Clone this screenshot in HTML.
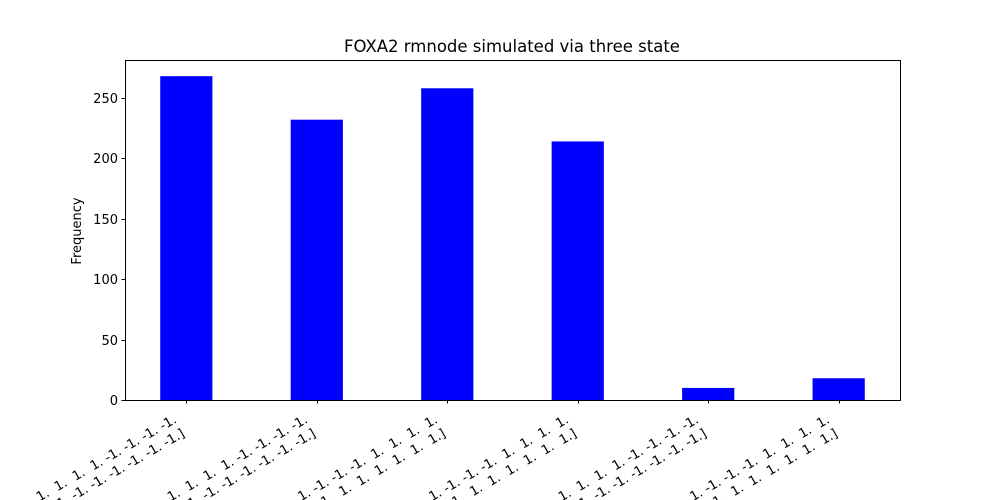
<!DOCTYPE html>
<html><head><meta charset="utf-8"><style>
html,body{margin:0;background:#fff;width:1000px;height:500px;overflow:hidden}
svg{display:block;font-family:"DejaVu Sans","Liberation Sans",sans-serif;overflow:hidden}
text{white-space:pre}
</style></head><body>
<svg id="chart" width="1000" height="500">
<rect x="0" y="0" width="1000" height="500" fill="#fff"/>
<text x="512" y="52" font-size="16.5" text-anchor="middle">FOXA2 rmnode simulated via three state</text>
<text transform="translate(81,231) rotate(-90)" font-size="13" text-anchor="middle">Frequency</text>
<g id="bars"></g><g id="yticks"></g><g id="xticks"></g>
<rect x="125.5" y="60.5" width="775" height="340" fill="none" stroke="#000" stroke-width="1"/>
</svg>
<script>
const categories = [
 ["[ 1.  1.  1.  1.  1. -1. -1. -1. -1.", " -1. -1. -1. -1. -1. -1. -1. -1.]"],
 ["[ 1.  1.  1.  1.  1. -1. -1. -1. -1.", " 1. -1. -1. -1. -1. -1. -1. -1.]"],
 ["[ 1.  1. -1. -1. -1.  1.  1.  1.  1.", " -1.  1.  1.  1.  1.  1.  1.  1.]"],
 ["[ 1.  1. -1. -1. -1.  1.  1.  1.  1.", " 1.  1.  1.  1.  1.  1.  1.  1.]"],
 ["[ 1.  1.  1.  1.  1. -1. -1. -1. -1.", " -1. -1. -1. -1. -1. -1. -1. -1.]"],
 ["[ 1.  1. -1. -1. -1.  1.  1.  1.  1.", " -1.  1.  1.  1.  1.  1.  1.  1.]"]
];
const values = [268, 232, 258, 214, 10, 18];
const yTicks = [0, 50, 100, 150, 200, 250];
const NS = "http://www.w3.org/2000/svg";
const L=125, R=900, T=60, B=400;
const xMin=-0.47, xMax=5.47;
const yMax=281.4;
const xs = v => L + (v - xMin) / (xMax - xMin) * (R - L);
const ys = v => B - v / yMax * (B - T);
const bw = 0.4 * (R - L) / (xMax - xMin);
function mk(tag, attrs, parent){const e=document.createElementNS(NS,tag);for(const k in attrs)e.setAttribute(k,attrs[k]);parent.appendChild(e);return e;}
const gb=document.getElementById('bars'), gy=document.getElementById('yticks'), gx=document.getElementById('xticks');
values.forEach((v,i)=>{
  const r=mk('rect',{x:xs(i)-bw/2,y:ys(v),width:bw,height:ys(0)-ys(v),fill:'#0000ff'},gb);
  
  
});
yTicks.forEach(t=>{
  const y=Math.round(ys(t))+0.5;
  const l=mk('line',{x1:L-3.5,x2:L,y1:y,y2:y,stroke:'#000'},gy);
  
  
  const tx=mk('text',{x:L-7,y:y+4.5,'font-size':13,'text-anchor':'end'},gy);
  tx.textContent=t;
  
  
});
categories.forEach((c,i)=>{
  const x=Math.round(xs(i))+0.5;
  const l=mk('line',{x1:x,x2:x,y1:B,y2:B+3.5,stroke:'#000'},gx);
  
  
  [[c[0],-9,422],[c[1],-1,436]].forEach(([s,dx,y])=>{
    const ax=x+dx;
    const t=mk('text',{x:ax,y:y,'font-size':13,'text-anchor':'end',transform:`rotate(-30 ${ax} ${y})`},gx);
    t.textContent=s;
    
    
  });
});
</script>
</body></html>
